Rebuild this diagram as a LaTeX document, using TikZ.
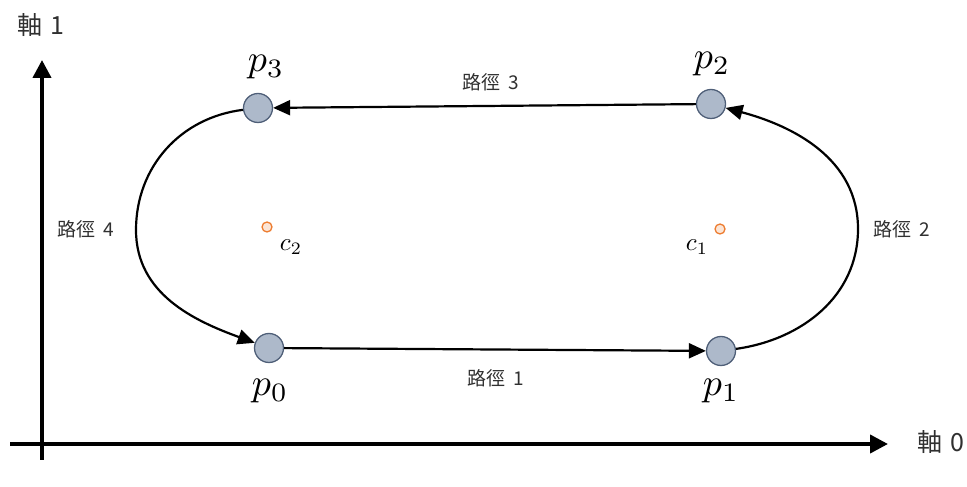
\documentclass[tikz,border=0pt]{standalone}
\usepackage{fontspec}
\newfontfamily\cjk{Noto Sans CJK TC}
\usetikzlibrary{arrows.meta}
\definecolor{nodefill}{HTML}{ADB9CA}
\definecolor{nodeline}{HTML}{4F5F78}
\definecolor{ctrfill}{HTML}{FBE5D6}
\definecolor{ctrline}{HTML}{ED7D31}
\definecolor{txt}{HTML}{303030}
\begin{document}
\begin{tikzpicture}[x=1pt,y=1pt,
  ptnode/.style={circle,draw=nodeline,fill=nodefill,line width=1.3pt,minimum size=29pt,inner sep=0pt},
  ctr/.style={circle,draw=ctrline,fill=ctrfill,line width=1.3pt,minimum size=10pt,inner sep=0pt},
  conn/.style={line width=2.2pt,-{Triangle[length=17pt,width=15pt]}},
  axisline/.style={line width=4pt,-{Triangle[length=18pt,width=18pt]}},
  plabel/.style={scale=3.8,inner sep=0pt},
  clabel/.style={scale=2.5,inner sep=0pt},
  pathlbl/.style={font=\cjk\fontsize{19}{23}\selectfont,text=txt,inner sep=0pt},
  axlabel/.style={font=\cjk\fontsize{25}{30}\selectfont,text=txt,inner sep=0pt}]
\useasboundingbox (0,0) rectangle (967,487);
% axes
\coordinate (ybot) at (42,27);
\coordinate (ytop) at (42,427);
\coordinate (xleft) at (10,43);
\coordinate (xright) at (888,43);
\draw[axisline] (ybot) -- (ytop);
\draw[axisline] (xleft) -- (xright);
\node[axlabel] (ax1) at (41,462) {軸\hspace{0.3em}1};
\node[axlabel] (ax0) at (941,45) {軸\hspace{0.3em}0};
% points
\node[ptnode] (p0) at (269,139) {};
\node[ptnode] (p1) at (721,136) {};
\node[ptnode] (p2) at (711,383) {};
\node[ptnode] (p3) at (258,379) {};
\node[ctr] (c2) at (267,260) {};
\node[ctr] (c1) at (720,258) {};
\coordinate (m4) at (136,257);
\coordinate (m2) at (858,258);
% labels
\node[plabel] (lp0) at (270,96) {$p_0$};
\node[plabel] (lp1) at (721,96) {$p_1$};
\node[plabel] (lp2) at (712,423) {$p_2$};
\node[plabel] (lp3) at (266,420) {$p_3$};
\node[clabel] (lc2) at (291,240) {$c_2$};
\node[clabel] (lc1) at (697,240) {$c_1$};
\node[pathlbl] (l1) at (496,109) {路徑\hspace{0.4em}1};
\node[pathlbl] (l2) at (902,258) {路徑\hspace{0.4em}2};
\node[pathlbl] (l3) at (491,405) {路徑\hspace{0.4em}3};
\node[pathlbl] (l4) at (86,258) {路徑\hspace{0.4em}4};
% connectors
\draw[conn] (p0) -- (p1);
\draw[conn] (p2) -- (p3);
\draw[conn] (p1) to[out=8,in=-90] (m2) to[out=90,in=-15] (p2);
\draw[conn] (p3) to[out=187,in=90] (m4) to[out=-90,in=160] (p0);
\end{tikzpicture}
\end{document}
